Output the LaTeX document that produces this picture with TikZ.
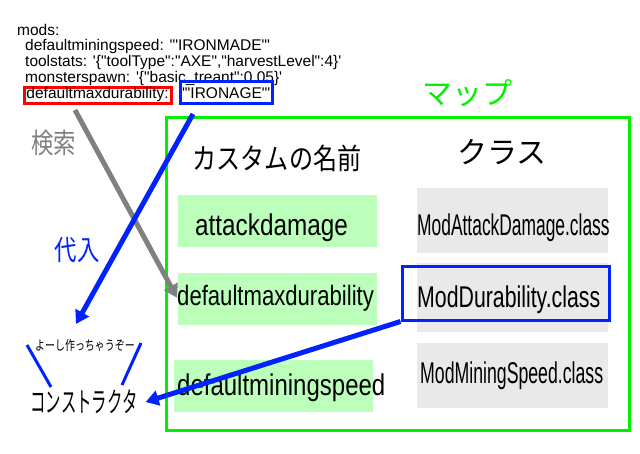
\documentclass[tikz,border=0pt]{standalone}
\usepackage{fontspec}
\setmainfont{Liberation Sans}[Ligatures=TeXOff]
\newfontfamily\jp{Noto Sans CJK JP}
\usetikzlibrary{arrows.meta}

\definecolor{mapgreen}{RGB}{0,240,0}
\definecolor{assignblue}{RGB}{0,34,255}
\definecolor{searchgray}{RGB}{128,128,128}
\definecolor{namegreen}{RGB}{187,255,187}
\definecolor{classgray}{RGB}{233,233,233}

\begin{document}
\begin{tikzpicture}[x=1pt,y=-1pt,
    code/.style={anchor=base west,inner sep=0pt,font=\fontsize{15.5}{15.5}\selectfont},
    namebox/.style={fill=namegreen,anchor=north west,inner sep=0pt},
    classbox/.style={fill=classgray,anchor=north west,inner sep=0pt},
    cell/.style={inner sep=0pt,font=\fontsize{30}{36}\selectfont},
    arrowline/.style={line width=5pt,-{Triangle[length=13pt,width=15pt]}}
  ]
\useasboundingbox (0,0) rectangle (640,453);

% config text
\node[code] (mods) at (17,35) {mods:};
\node[code] (speed) at (25,50) {defaultminingspeed: '"IRONMADE"'};
\node[code] (tools) at (25,66) {toolstats: '\{"toolType":"AXE","harvestLevel":4\}'};
\node[code] (spawn) at (25,82) {monsterspawn: '\{"basic\_treant":0.05\}'};
\node[code,draw=red,line width=3pt,inner xsep=2.5pt,inner ysep=0.5pt,
      text height=10pt,text depth=5pt] (key) at (22.5,98) {defaultmaxdurability:};
\node[code,draw=assignblue,line width=3pt,inner xsep=2pt,inner ysep=0.5pt,
      text height=16pt,text depth=5pt] (val) at (178.5,98) {'"IRONAGE"'};

% map
\node[draw=mapgreen,line width=3pt,anchor=north west,inner sep=0pt,
      minimum width=463pt,minimum height=313pt] (mapbox) at (164.5,115.5) {};
\node[text=mapgreen,font=\jp\fontsize{30}{36}\selectfont,inner sep=0pt] (maplabel) at (467,93) {マップ};
\node[font=\jp\fontsize{29}{34}\selectfont,inner sep=0pt] (namehead) at (277,158) {\scalebox{0.83}[1]{カスタムの名前}};
\node[font=\jp\fontsize{30}{36}\selectfont,inner sep=0pt] (classhead) at (502,152) {クラス};

% custom names
\node[namebox,minimum width=199pt,minimum height=52pt] (nb1) at (178,195) {};
\node[namebox,minimum width=199pt,minimum height=52pt] (nb2) at (178,273) {};
\node[namebox,minimum width=199pt,minimum height=52pt] (nb3) at (174,360) {};
\node[cell,anchor=base west] (attack) at (195,235) {\scalebox{0.81}[1]{attackdamage}};
\node[cell,anchor=base west,font=\fontsize{28}{34}\selectfont] (dmd) at (177,305) {\scalebox{0.79}[1]{defaultmaxdurability}};
\node[cell,anchor=base west] (dms) at (177,395) {\scalebox{0.8}[1]{defaultminingspeed}};

% classes
\node[classbox,minimum width=191pt,minimum height=65pt] (cb1) at (417,188) {};
\node[classbox,minimum width=191pt,minimum height=69pt] (cb2) at (417,263) {};
\node[classbox,minimum width=191pt,minimum height=65pt] (cb3) at (417,343) {};
\node[cell,anchor=base west] (attackclass) at (417,235) {\scalebox{0.58}[1]{ModAttackDamage.class}};
\node[cell,anchor=base west] (durclass) at (417,307) {\scalebox{0.71}[1]{ModDurability.class}};
\node[cell,anchor=base west] (speedclass) at (420,383) {\scalebox{0.59}[1]{ModMiningSpeed.class}};
\node[draw=assignblue,line width=3pt,anchor=north west,inner sep=0pt,
      minimum width=207pt,minimum height=54pt] (durbox) at (400.5,264.5) {};

% constructor
\node[font=\jp\fontsize{13.5}{16}\selectfont,inner sep=0pt] (hey) at (85,345) {\scalebox{0.74}[1]{よーし作っちゃうぞー}};
\node[font=\jp\fontsize{28}{34}\selectfont,inner ysep=0pt,inner xsep=8pt] (ctor) at (84,402) {\scalebox{0.55}[1]{コンストラクタ}};
\draw[assignblue,line width=3pt] (27,345) -- (51,387);
\draw[assignblue,line width=3pt] (141,343) -- (122,385);

% arrows
\node[text=searchgray,font=\jp\fontsize{28}{34}\selectfont,inner sep=0pt] (search) at (54,143) {\scalebox{0.8}[1]{検索}};
\node[text=assignblue,font=\jp\fontsize{28}{34}\selectfont,inner sep=0pt] (assign) at (77,250) {\scalebox{0.8}[1]{代入}};
\coordinate (searchfrom) at (75,110);
\coordinate (assignfrom) at (193,114);
\coordinate (assignto) at (76,324);
\draw[arrowline,searchgray] (searchfrom) -- (dmd.west);
\draw[arrowline,assignblue] (assignfrom) -- (assignto);
\draw[arrowline,assignblue] (durbox.south west) -- (ctor.east);
\end{tikzpicture}
\end{document}
